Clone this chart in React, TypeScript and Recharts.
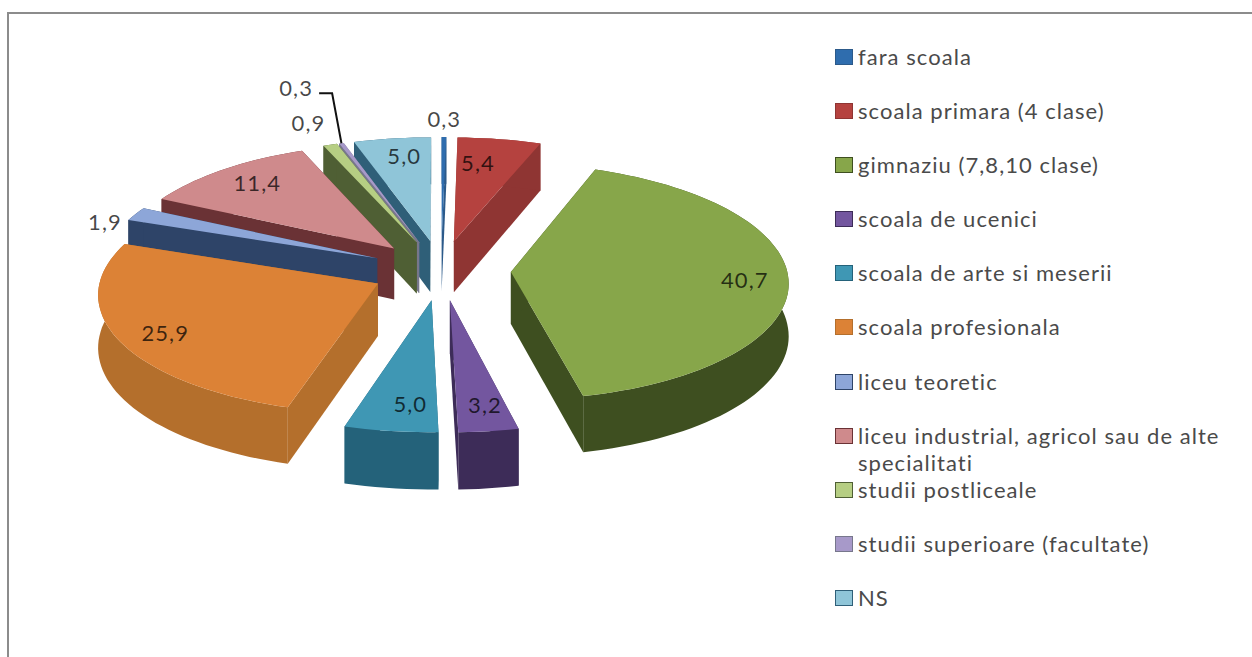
import { PieChart, Pie, Legend } from 'recharts';

const categories = [
  'fara scoala',
  'scoala primara (4 clase)',
  'gimnaziu (7,8,10 clase)',
  'scoala de ucenici',
  'scoala de arte si meserii',
  'scoala profesionala',
  'liceu teoretic',
  'liceu industrial, agricol sau de alte specialitati',
  'studii postliceale',
  'studii superioare (facultate)',
  'NS',
];
const shares = [0.3, 5.4, 40.7, 3.2, 5.0, 25.9, 1.9, 11.4, 0.9, 0.3, 5.0];

const topColors = ['#2F6DAE', '#B5423F', '#87A64A', '#73569F', '#3F97B4', '#DC8236', '#8DA6D8', '#CF8A8C', '#B6CE83', '#A799C9', '#8FC5D8'];
const wallColors = ['#2C5A8A', '#8F3533', '#3E4F20', '#3D2C58', '#24627A', '#B46F2C', '#2E4468', '#6A3235', '#4F5F34', '#77778C', '#2F5F78'];

// where each value label sits: share of the radius from the slice tip, and a small turn in degrees
const labelReach = [1.196, 0.75, 0.843, 0.808, 0.8, 0.834, 1.077, 0.808, 1.26, 1.66, 0.822];
const labelTurn = [0, -3.3, 0.6, -1, -2.6, -1.6, -5.7, 1.1, -0.3, -0.2, 1.6];

const CX = 441;
const CY = 270;
const RADIUS = 276;
const EXPLODE = 70;
const DEPTH = 52;
const TILT = 0.427;
const PERSPECTIVE = 0.08;

const rows = categories.map((name, i) => ({ name, value: shares[i], fill: topColors[i] }));
// the pie runs anticlockwise over the reversed list, so the slices at the back get painted first
const paintRows = [...rows].reverse();

const rad = (d: number) => (d * Math.PI) / 180;

// disc coordinates (x right, y towards the viewer) to screen
function project(x: number, y: number, drop = 0) {
  const p = 1 + (PERSPECTIVE * y) / RADIUS;
  return [CX + x * p, CY + TILT * y * p + drop * p];
}

function onSlice(mid: number, theta: number, r: number, drop = 0) {
  const x = EXPLODE * Math.sin(rad(mid)) + r * Math.sin(rad(theta));
  const y = -EXPLODE * Math.cos(rad(mid)) - r * Math.cos(rad(theta));
  return project(x, y, drop);
}

const toPath = (pts: number[][]) =>
  'M' + pts.map((p) => `${p[0].toFixed(1)},${p[1].toFixed(1)}`).join('L') + 'Z';

function Slice3D(props: any) {
  const a0 = 90 - props.startAngle;
  const a1 = 90 - props.endAngle;
  const mid = (a0 + a1) / 2;
  const i = categories.indexOf(props.name);
  const n = Math.max(2, Math.ceil(Math.abs(a1 - a0) / 2));
  const thetas = Array.from({ length: n + 1 }, (_, k) => a0 + ((a1 - a0) * k) / n);
  const arcTop = thetas.map((t) => onSlice(mid, t, RADIUS));
  const arcLow = thetas.map((t) => onSlice(mid, t, RADIUS, DEPTH));
  const tipTop = onSlice(mid, 0, 0);
  const tipLow = onSlice(mid, 0, 0, DEPTH);
  const wall = wallColors[i];
  return (
    <g>
      <path d={toPath([tipTop, arcTop[0], arcLow[0], tipLow])} fill={wall} />
      <path d={toPath([tipTop, arcTop[n], arcLow[n], tipLow])} fill={wall} />
      <path d={toPath([...arcTop, ...[...arcLow].reverse()])} fill={wall} />
      <path d={toPath([tipTop, ...arcTop])} fill={topColors[i]} />
    </g>
  );
}

function ValueLabel(props: any) {
  const i = categories.indexOf(props.name);
  const mid = 90 - props.midAngle;
  const [x, y] = onSlice(mid, mid + labelTurn[i], RADIUS * labelReach[i]);
  const text = shares[i].toFixed(1).replace('.', ',');
  return (
    <g>
      {i === 9 && (
        <polyline
          points={`${x + 23},${y + 6} ${x + 36},${y + 6} ${onSlice(mid, mid, RADIUS).join(',')}`}
          fill="none"
          stroke="#111"
          strokeWidth={2}
        />
      )}
      <text
        x={x}
        y={y}
        textAnchor="middle"
        dominantBaseline="central"
        fontFamily="Lato"
        fontSize={22}
        letterSpacing={1.1}
        fill="#000"
        fillOpacity={0.72}
      >
        {text}
      </text>
    </g>
  );
}

function LegendList() {
  return (
    <div style={{ fontFamily: 'Lato', fontSize: 22, letterSpacing: 1.05, color: '#4a4a4a', lineHeight: '27px' }}>
      {rows.map((r, i) => (
        <div key={r.name} style={{ height: 54.1, display: 'flex' }}>
          <span
            style={{
              flex: 'none',
              width: 16,
              height: 14,
              margin: '6px 5px 0 0',
              background: topColors[i],
              border: `1px solid ${wallColors[i]}`,
            }}
          />
          <span>{r.name}</span>
        </div>
      ))}
    </div>
  );
}

export default function App() {
  return (
    <div style={{ position: 'absolute', left: 0, top: 0, width: 1252, height: 657, background: '#fff', overflow: 'hidden' }}>
      <div style={{ position: 'absolute', left: 7, top: 12, width: 1300, height: 700, border: '2px solid #8c8c8c' }} />
      <PieChart width={1252} height={657} margin={{ top: 0, right: 0, bottom: 0, left: 0 }}>
        <Pie
          data={paintRows}
          dataKey="value"
          nameKey="name"
          cx={CX}
          cy={CY}
          outerRadius={RADIUS}
          startAngle={90}
          endAngle={450}
          stroke="none"
          shape={Slice3D}
          label={ValueLabel}
          labelLine={false}
          isAnimationActive={false}
        />
        <Legend
          content={LegendList}
          wrapperStyle={{ position: 'absolute', left: 835, top: 43, width: 405 }}
        />
      </PieChart>
    </div>
  );
}
